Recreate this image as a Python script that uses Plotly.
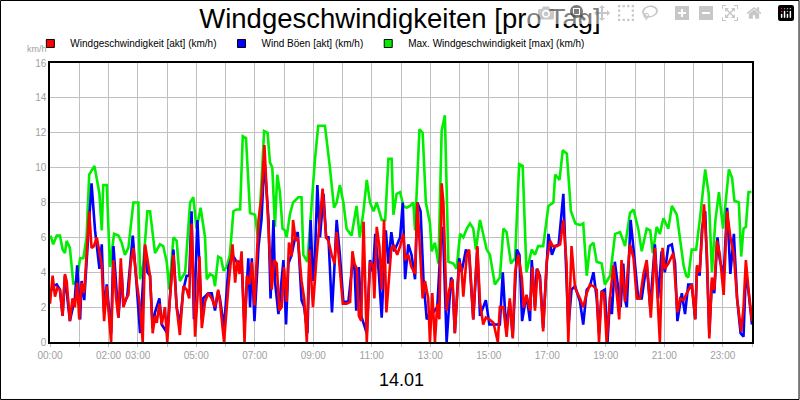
import plotly.graph_objects as go

# Max. Windgeschwindigkeit [max]
green_t = [0.02,0.11,0.23,0.34,0.43,0.51,0.57,0.68,0.80,0.91,1.03,1.14,1.25,1.34,1.52,1.69,1.77,1.82,1.94,2.05,2.19,2.34,2.45,2.56,2.68,2.85,3.02,3.08,3.19,3.33,3.42,3.59,3.76,3.87,3.99,4.08,4.22,4.33,4.44,4.62,4.79,4.90,5.01,5.15,5.30,5.36,5.47,5.58,5.64,5.75,
           5.85,5.93,6.04,6.15,6.27,6.38,6.50,6.59,6.70,6.84,7.01,7.12,7.24,7.32,7.44,7.52,7.60,7.69,7.77,7.86,7.95,8.03,8.09,8.20,8.31,8.49,8.60,8.66,8.80,8.91,9.06,9.17,9.40,9.57,9.71,9.80,9.91,10.03,10.14,10.31,10.48,10.59,10.71,10.83,10.94,11.06,11.17,11.34,11.46,11.57,11.68,11.74,11.85,
           11.97,12.08,12.19,12.31,12.42,12.48,12.63,12.74,12.85,12.99,13.05,13.16,13.28,13.39,13.50,13.62,13.79,13.90,14.02,14.13,14.25,14.36,14.47,14.56,14.70,14.81,14.93,15.04,15.21,15.38,15.50,15.61,15.76,15.90,16.04,16.16,16.29,16.47,16.58,16.69,16.86,17.04,17.21,17.27,17.42,17.53,17.67,17.81,17.96,
           18.12,18.23,18.35,18.46,18.58,18.69,18.86,18.97,19.15,19.32,19.49,19.66,19.83,19.95,20.11,20.23,20.40,20.52,20.61,20.74,20.85,20.97,21.14,21.26,21.43,21.54,21.66,21.75,21.82,21.94,22.09,22.23,22.40,22.52,22.63,22.75,22.87,23.01,23.21,23.32,23.40,23.55,23.63,23.71,23.79,23.88,23.98]
green_v = [6.1,5.6,6.1,6.1,5.3,5.1,5.8,5.4,3.3,3.5,4.8,4.8,6.0,9.6,10.1,8.5,6.4,9.0,9.0,4.3,6.2,6.1,5.7,5.0,5.4,8.0,8.0,3.6,4.5,7.5,7.5,5.1,5.6,5.5,4.6,3.0,6.0,5.8,3.5,4.0,8.0,8.3,6.5,7.7,6.0,3.6,3.9,3.8,3.2,4.9,
           4.8,4.1,4.3,5.0,7.5,7.6,7.6,11.8,11.7,7.4,7.3,5.8,9.5,12.1,12.0,10.3,10.0,6.6,9.6,8.6,6.5,6.4,6.0,7.3,8.0,8.3,8.3,5.0,4.6,7.2,10.5,12.4,12.4,10.0,7.7,8.0,9.0,8.0,6.5,6.1,7.8,6.0,7.4,9.3,8.0,7.5,8.0,7.0,7.0,10.5,10.5,7.3,8.5,
           8.6,7.8,7.7,7.8,8.0,6.4,12.2,12.0,8.0,6.8,5.2,5.7,4.5,12.1,13.0,4.6,4.5,4.2,6.2,6.0,6.5,6.8,6.5,5.3,7.0,6.2,5.3,5.0,3.3,3.7,6.5,6.3,4.5,4.8,10.2,10.1,4.0,5.3,5.0,5.5,5.5,7.8,8.0,9.6,9.3,11.0,10.8,7.5,6.8,
           6.7,6.8,3.8,5.5,5.7,4.6,4.5,3.3,3.8,6.2,6.3,5.5,7.4,7.6,6.5,5.2,6.5,6.4,5.1,6.6,6.2,7.1,6.5,7.8,7.3,5.8,4.4,3.8,3.7,5.3,5.3,7.2,9.9,8.5,4.0,7.0,8.6,6.5,9.9,9.4,8.1,8.0,4.9,6.5,6.6,8.6,8.6]

# Wind Böen [akt]
blue_t = [0.0,0.11,0.23,0.34,0.43,0.51,0.68,0.85,0.93,1.03,1.08,1.17,1.34,1.42,1.54,1.69,1.77,1.85,1.94,2.09,2.17,2.34,2.45,2.51,2.64,2.83,2.96,3.08,3.25,3.33,3.42,3.51,3.59,3.74,3.82,4.01,4.22,4.33,4.44,4.56,4.67,4.76,4.84,4.92,5.04,5.11,5.19,5.24,5.41,5.53,5.64,5.75,
          5.81,5.95,6.10,6.24,6.38,6.55,6.65,6.78,6.84,6.90,6.99,7.13,7.23,7.33,7.47,7.54,7.64,7.69,7.81,7.98,8.07,8.15,8.26,8.38,8.47,8.60,8.69,8.80,8.91,8.99,9.06,9.14,9.23,9.35,9.44,9.52,9.64,9.73,9.80,9.91,10.03,10.20,10.34,10.41,10.47,10.56,10.64,10.83,10.94,11.04,11.12,11.24,11.34,11.48,11.57,11.67,11.76,11.87,
          11.97,12.06,12.14,12.25,12.36,12.48,12.56,12.67,12.77,12.88,12.99,13.10,13.24,13.39,13.45,13.56,13.71,13.76,13.84,13.99,14.07,14.22,14.33,14.47,14.61,14.70,14.90,15.02,15.21,15.38,15.48,15.59,15.72,15.82,15.96,16.05,16.14,16.29,16.41,16.47,16.58,16.64,16.75,16.86,17.04,17.16,17.27,17.39,17.55,17.66,17.72,17.83,17.95,
          18.12,18.23,18.35,18.46,18.58,18.69,18.77,18.86,18.97,19.06,19.15,19.21,19.31,19.44,19.51,19.60,19.66,19.72,19.85,19.97,20.11,20.23,20.34,20.40,20.52,20.68,20.79,20.91,21.02,21.14,21.26,21.37,21.45,21.60,21.71,21.82,21.94,22.06,22.12,22.21,22.29,22.40,22.54,22.63,22.71,22.82,22.90,23.03,23.15,23.26,23.38,23.49,23.61,23.71,23.79,23.88,24.0]
blue_v = [2.8,3.2,3.3,3.0,1.5,3.8,1.2,2.5,4.4,1.3,3.5,2.4,7.0,9.1,6.4,4.2,5.6,1.7,3.3,0.5,5.5,1.4,4.0,2.1,2.6,6.1,3.3,0.5,5.5,4.0,3.8,0.8,1.7,2.5,1.0,0.5,5.3,2.0,1.0,3.0,3.8,3.8,7.5,1.3,7.0,4.5,1.3,2.5,2.8,2.8,1.8,2.9,
          2.5,0.8,4.3,5.0,4.6,4.6,0.9,4.8,2.0,4.8,1.2,5.5,7.0,10.5,7.0,2.5,7.0,3.5,1.6,4.7,1.0,4.5,5.0,6.0,6.3,2.4,2.0,0.5,7.0,3.5,5.0,9.0,6.0,8.5,6.0,6.0,1.7,4.5,7.0,5.0,2.3,2.3,4.5,4.3,1.8,4.3,1.5,0.5,4.7,4.0,6.2,4.0,1.4,6.4,4.5,6.3,5.2,5.6,
          6.0,8.0,3.6,5.6,5.0,3.6,8.0,7.5,3.5,1.3,1.7,1.7,2.0,6.6,5.7,0.0,3.7,3.5,0.5,4.8,4.0,5.3,5.0,1.3,5.4,1.5,2.4,1.0,1.0,1.0,4.0,0.8,2.3,0.3,5.3,5.0,1.2,2.7,1.2,4.7,2.0,4.2,3.8,0.8,6.2,5.0,5.5,5.6,8.5,3.9,0.8,3.0,3.2,
          2.3,1.0,3.0,3.2,4.0,2.5,0.5,2.9,3.0,0.0,2.6,1.6,4.6,3.0,2.0,4.5,2.4,2.0,7.0,5.0,2.5,2.5,4.0,4.5,2.0,5.6,2.5,5.2,4.0,5.5,5.6,4.5,1.2,2.8,1.6,3.3,3.3,1.3,4.3,3.8,6.5,7.5,0.5,3.5,2.8,6.0,4.7,3.8,7.7,3.9,6.2,2.5,0.5,0.3,4.0,2.9,1.0]

# Windgeschwindigkeit [akt]
red_t = [0.0,0.09,0.17,0.25,0.34,0.43,0.51,0.57,0.68,0.77,0.85,0.93,1.00,1.08,1.17,1.25,1.34,1.42,1.50,1.60,1.71,1.77,1.85,1.94,1.99,2.09,2.17,2.26,2.34,2.42,2.51,2.60,2.68,2.76,2.85,2.96,3.08,3.17,3.25,3.33,3.42,3.51,3.59,3.65,3.74,3.82,3.93,4.01,4.10,4.22,4.33,4.44,4.56,4.67,4.76,4.84,4.96,5.04,5.11,5.19,5.30,5.41,5.53,5.64,5.75,
         5.81,5.95,6.10,6.24,6.33,6.40,6.48,6.55,6.65,6.73,6.82,6.90,6.99,7.13,7.23,7.33,7.50,7.58,7.66,7.75,7.84,7.92,8.00,8.09,8.17,8.26,8.31,8.40,8.47,8.60,8.69,8.78,8.87,8.99,9.11,9.23,9.32,9.44,9.52,9.63,9.73,9.80,9.91,10.01,10.14,10.26,10.34,10.41,10.49,10.56,10.64,10.72,10.83,10.94,11.04,11.09,11.17,11.26,11.34,11.42,11.50,11.67,11.76,11.87,
         11.97,12.08,12.14,12.25,12.36,12.48,12.56,12.65,12.74,12.82,12.93,12.99,13.07,13.16,13.24,13.31,13.39,13.45,13.56,13.65,13.76,13.84,13.99,14.07,14.13,14.25,14.33,14.47,14.61,14.70,14.81,14.90,15.02,15.16,15.31,15.38,15.50,15.61,15.72,15.82,15.90,16.01,16.13,16.20,16.29,16.41,16.50,16.58,16.67,16.75,16.86,16.98,17.10,17.19,17.33,17.44,17.55,17.66,17.72,17.83,17.95,
         18.12,18.23,18.35,18.46,18.58,18.69,18.77,18.86,18.94,19.03,19.15,19.26,19.38,19.46,19.54,19.66,19.83,19.95,20.06,20.17,20.29,20.40,20.54,20.68,20.85,20.94,21.02,21.14,21.31,21.45,21.54,21.66,21.77,21.94,22.06,22.12,22.21,22.36,22.46,22.54,22.63,22.71,22.80,22.90,23.03,23.15,23.26,23.38,23.49,23.63,23.71,23.79,23.88,24.0]
red_v = [2.2,3.8,2.6,3.1,3.0,1.5,3.9,3.5,1.2,2.5,2.0,3.4,1.3,3.4,2.8,5.0,7.5,5.4,5.5,6.0,5.0,4.4,1.2,3.2,2.0,0.0,4.7,2.5,1.4,4.8,2.0,2.5,2.7,4.5,5.4,3.5,2.0,0.0,5.6,4.7,3.8,0.5,1.5,1.1,2.2,1.0,2.0,0.0,2.5,5.0,2.0,0.4,3.2,3.0,2.5,6.8,0.3,2.5,4.9,0.8,2.3,2.8,2.5,2.0,3.0,
         2.3,0.0,3.2,5.6,3.4,4.7,3.9,5.2,0.0,3.8,3.3,4.6,2.1,7.0,8.3,11.3,5.5,3.0,4.7,4.5,1.8,2.0,4.3,2.3,5.7,4.9,7.0,5.8,6.0,3.5,2.5,0.0,5.3,2.0,4.8,7.0,8.8,6.0,5.8,5.0,4.5,6.3,4.3,2.2,2.2,2.3,5.2,4.5,4.2,1.5,1.2,6.9,0.0,4.6,4.4,2.5,6.6,5.5,3.0,7.0,1.7,5.4,5.5,5.0,
         5.5,6.2,4.7,5.0,4.3,3.9,8.0,5.5,2.5,3.5,2.5,0.0,2.8,0.0,2.2,1.3,9.1,8.0,1.8,3.0,3.6,0.5,4.6,4.2,2.6,5.0,5.3,1.3,5.5,2.3,1.0,1.4,1.3,1.1,0.0,2.0,2.0,0.3,2.5,0.2,4.0,5.0,3.7,2.0,2.7,1.8,4.3,1.8,4.2,3.6,0.6,4.6,5.8,5.5,5.5,5.6,7.0,4.5,0.0,5.5,3.1,
         2.5,2.0,2.8,3.3,3.2,3.0,0.0,2.9,2.8,0.0,2.6,4.4,2.7,1.3,4.7,2.3,5.6,4.8,2.5,2.5,3.9,4.7,1.4,5.4,0.0,5.4,4.2,4.5,5.1,1.7,2.5,2.4,2.8,3.3,1.3,4.4,4.0,7.9,5.0,0.2,3.7,3.0,5.8,5.0,2.7,7.5,6.0,5.0,2.5,0.6,2.0,4.7,3.0,1.2]

y_ticks = [0, 2, 4, 6, 8, 10, 12, 14, 16]
x_tick_hours = list(range(0, 25))
x_tick_labels = {0: "00:00", 2: "02:00", 3: "03:00", 5: "05:00", 7: "07:00", 9: "09:00", 11: "11:00",
                 13: "13:00", 15: "15:00", 17: "17:00", 19: "19:00", 21: "21:00", 23: "23:00"}
names = ["Windgeschwindigkeit [akt] (km/h)", "Wind Böen [akt] (km/h)", "Max. Windgeschwindigkeit [max] (km/h)"]
colors = ["#ff0000", "#0000ff", "#00ee00"]

fig = go.Figure()
for t, v, c in [(green_t, green_v, colors[2]), (blue_t, blue_v, colors[1]), (red_t, red_v, colors[0])]:
    fig.add_trace(go.Scatter(x=t, y=v, mode="lines", line=dict(color=c, width=2.6), showlegend=False))
for n, c in zip(names, colors):
    fig.add_trace(go.Scatter(x=[None], y=[None], mode="markers", name=n,
                             marker=dict(symbol="square", size=8, color=c, line=dict(color="black", width=1))))

fig.update_layout(
    width=800, height=400, paper_bgcolor="white", plot_bgcolor="white",
    margin=dict(l=50, r=48, t=63, b=58),
    font=dict(family="Liberation Sans, Arial, sans-serif", size=10, color="black"),
    title=dict(text="Windgeschwindigkeiten [pro Tag]", x=0.5, xanchor="center", y=0.955, yanchor="middle",
               font=dict(size=27.5, color="black")),
    legend=dict(orientation="h", x=-0.028, y=1.07, xanchor="left", yanchor="middle",
                font=dict(size=10), bgcolor="rgba(0,0,0,0)"),
    xaxis=dict(range=[0, 24], tickvals=x_tick_hours,
               ticktext=[x_tick_labels.get(h, "") for h in x_tick_hours],
               showgrid=True, gridcolor="#c0c0c0", gridwidth=1,
               showline=True, linecolor="black", linewidth=1.5, mirror=True,
               ticks="outside", ticklen=3, tickcolor="#c0c0c0",
               tickfont=dict(color="#a0a0a0", size=10), zeroline=False),
    yaxis=dict(range=[0, 16], tickvals=y_ticks, showgrid=True, gridcolor="#c0c0c0", gridwidth=1,
               showline=True, linecolor="black", linewidth=1.5, mirror=True,
               tickfont=dict(color="#a0a0a0", size=10), zeroline=False),
    shapes=[dict(type="rect", xref="paper", yref="paper", x0=-0.0705, x1=1.067, y0=-0.206, y1=1.224,
                 line=dict(color="black", width=1))],
    annotations=[
        dict(text="km/h", xref="paper", yref="paper", x=-0.035, y=1.05, xanchor="left", yanchor="middle",
             showarrow=False, font=dict(size=9, color="#a0a0a0")),
        dict(text="14.01", xref="paper", yref="paper", x=0.5, y=-0.135, xanchor="center", yanchor="middle",
             showarrow=False, font=dict(size=18, color="black")),
    ],
)
fig.write_html("out.html", post_script="document.body.style.margin='0';document.body.style.padding='0';")
